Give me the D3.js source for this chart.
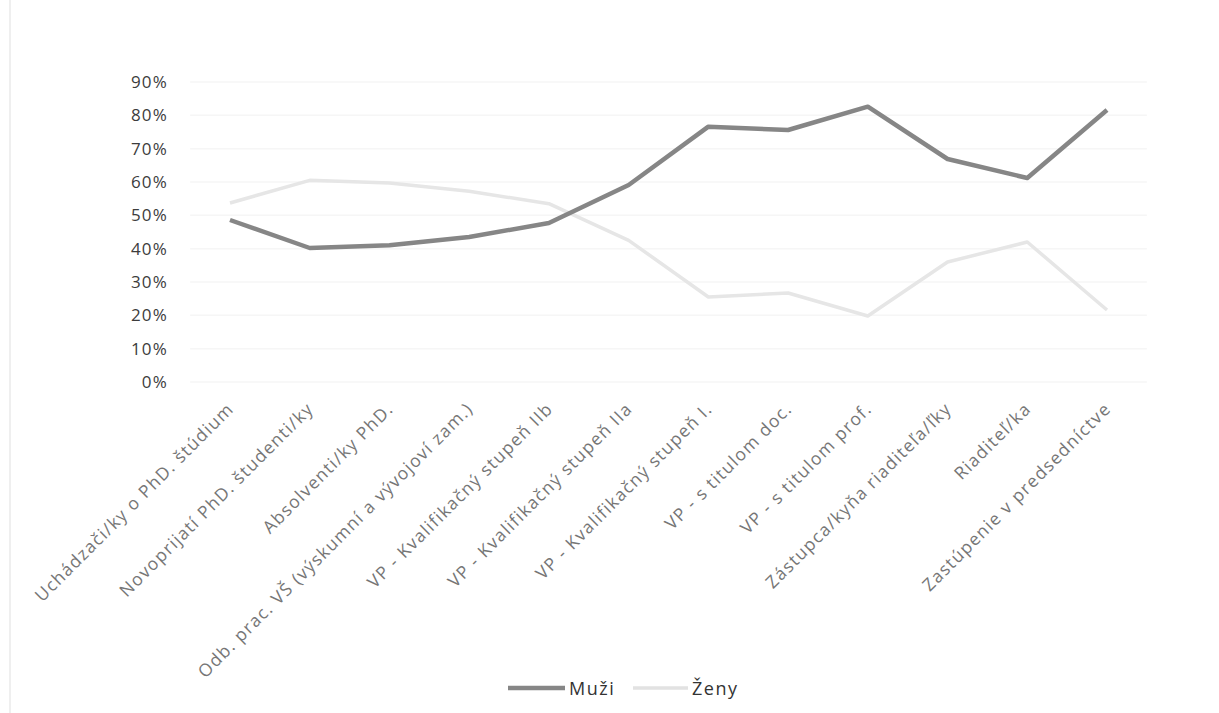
<!DOCTYPE html>
<html>
<head>
<meta charset="utf-8">
<script src="https://cdn.jsdelivr.net/npm/d3@7"></script>
<style>
html,body{margin:0;padding:0;background:#fff;}
svg{display:block;}
text{font-family:"Open Sans",sans-serif;}
</style>
</head>
<body>
<svg id="chart" width="1219" height="713"></svg>
<script>
const categories = [
  "Uchádzači/ky o PhD. štúdium",
  "Novoprijatí PhD. študenti/ky",
  "Absolventi/ky PhD.",
  "Odb. prac. VŠ (výskumní a vývojoví zam.)",
  "VP - Kvalifikačný stupeň IIb",
  "VP - Kvalifikačný stupeň IIa",
  "VP - Kvalifikačný stupeň I.",
  "VP - s titulom doc.",
  "VP - s titulom prof.",
  "Zástupca/kyňa riaditeľa/ľky",
  "Riaditeľ/ka",
  "Zastúpenie v predsedníctve"
];
const muzi = [0.486, 0.402, 0.410, 0.435, 0.477, 0.591, 0.766, 0.756, 0.826, 0.669, 0.612, 0.816];
const zeny = [0.537, 0.605, 0.597, 0.572, 0.535, 0.425, 0.255, 0.267, 0.198, 0.360, 0.420, 0.216];
const yTicks = [0, 0.1, 0.2, 0.3, 0.4, 0.5, 0.6, 0.7, 0.8, 0.9];
const seriesNames = ["Muži", "Ženy"];

const svg = d3.select("#chart");

// faint chart frame (left edge visible in scan)
svg.append("line").attr("x1", 10).attr("x2", 10).attr("y1", 0).attr("y2", 713)
  .attr("stroke", "#efefef").attr("stroke-width", 2);

const x = d3.scalePoint().domain(categories).range([230, 1107]);
const y = d3.scaleLinear().domain([0, 0.9]).range([382, 82]);
const step = x.step();
const plotL = x(categories[0]) - step / 2;
const plotR = x(categories[categories.length - 1]) + step / 2;

// gridlines
svg.append("g").selectAll("line").data(yTicks).join("line")
  .attr("x1", plotL).attr("x2", plotR)
  .attr("y1", d => y(d)).attr("y2", d => y(d))
  .attr("stroke", "#f6f6f6").attr("stroke-width", 1.5);

// y axis labels
const yAxis = d3.axisLeft(y).tickValues(yTicks).tickFormat(d3.format(".0%")).tickSize(0).tickPadding(0);
const yg = svg.append("g").attr("transform", "translate(168,0)").call(yAxis);
yg.select(".domain").remove();
yg.selectAll("text").attr("font-family", "Open Sans, sans-serif").attr("font-size", 17)
  .attr("letter-spacing", "1.2px").attr("fill", "#3c3c3c");

// x axis labels
const xAxis = d3.axisBottom(x).tickSize(0).tickPadding(0);
const xg = svg.append("g").call(xAxis);
xg.select(".domain").remove();
xg.selectAll(".tick").attr("transform", d => `translate(${x(d) + 5},410)`);
xg.selectAll("text")
  .attr("font-family", "Open Sans, sans-serif")
  .attr("font-size", 17.5)
  .attr("letter-spacing", "1.3px")
  .attr("fill", "#767676")
  .attr("text-anchor", "end")
  .attr("dy", 0).attr("y", 0).attr("x", 0)
  .attr("transform", "rotate(-45)");

// lines
const line = d3.line().x((d, i) => x(categories[i])).y(d => y(d));
svg.append("path").datum(zeny).attr("d", line)
  .attr("fill", "none").attr("stroke", "#e6e6e6").attr("stroke-width", 3.5)
  .attr("stroke-linejoin", "round");
svg.append("path").datum(muzi).attr("d", line)
  .attr("fill", "none").attr("stroke", "#868686").attr("stroke-width", 4.5)
  .attr("stroke-linejoin", "round");

// legend
const legendColors = ["#868686", "#e2e2e2"];
const legendWidths = [4.5, 3.5];
const legendX = [508, 633];
const legendW = [57, 55];
const leg = svg.append("g");
seriesNames.forEach((name, i) => {
  leg.append("line").attr("x1", legendX[i]).attr("x2", legendX[i] + legendW[i])
    .attr("y1", 688).attr("y2", 688)
    .attr("stroke", legendColors[i]).attr("stroke-width", legendWidths[i]);
  leg.append("text").attr("x", legendX[i] + legendW[i] + 4).attr("y", 688)
    .attr("dominant-baseline", "central")
    .attr("font-size", 18).attr("letter-spacing", "1.5px").attr("fill", "#333")
    .text(name);
});
</script>
</body>
</html>
